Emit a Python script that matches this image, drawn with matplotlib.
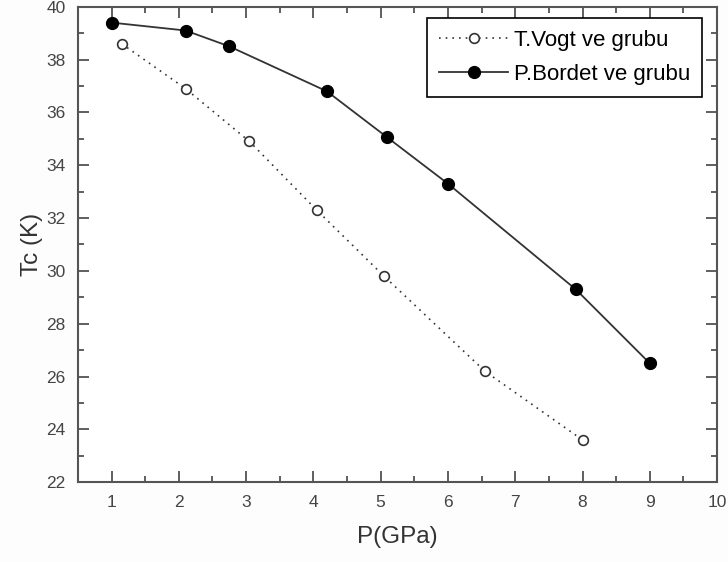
import matplotlib
matplotlib.use('Agg')
import matplotlib.pyplot as plt
from matplotlib.ticker import MultipleLocator

plt.rcParams['font.family'] = ['Liberation Sans', 'DejaVu Sans']

# T.Vogt ve grubu (open circles, dotted)
vogt_p = [1.15, 2.1, 3.05, 4.05, 5.05, 6.55, 8.0]
vogt_tc = [38.6, 36.9, 34.9, 32.3, 29.8, 26.2, 23.6]

# P.Bordet ve grubu (filled circles, solid)
bordet_p = [1.0, 2.1, 2.75, 4.2, 5.1, 6.0, 7.9, 9.0]
bordet_tc = [39.4, 39.1, 38.5, 36.8, 35.05, 33.3, 29.3, 26.5]

fig = plt.figure(figsize=(7.28, 5.62), dpi=100, facecolor='#fdfdfd')
ax = fig.add_axes([0.107, 0.142, 0.878, 0.846])

ax.plot(vogt_p, vogt_tc, linestyle=(0, (1, 3)), color='#333333', lw=1.2,
        marker='o', markersize=7, markerfacecolor='white',
        markeredgecolor='#333333', markeredgewidth=1.2, label='T.Vogt ve grubu')
ax.plot(bordet_p, bordet_tc, linestyle='-', color='#333333', lw=1.3,
        marker='o', markersize=8.5, markerfacecolor='black',
        markeredgecolor='black', label='P.Bordet ve grubu')

ax.set_xlim(0.5, 10)
ax.set_ylim(22, 40)
ax.xaxis.set_major_locator(MultipleLocator(1))
ax.xaxis.set_minor_locator(MultipleLocator(0.5))
ax.yaxis.set_major_locator(MultipleLocator(2))
ax.yaxis.set_minor_locator(MultipleLocator(1))
ax.tick_params(which='both', direction='in', top=True, right=True,
               labelsize=12.5, colors='#444444', width=1.2)
ax.tick_params(which='major', length=8, pad=9)
ax.tick_params(which='minor', length=4)
for s in ax.spines.values():
    s.set_color('#555555')
    s.set_linewidth(1.5)

ax.set_xlabel('P(GPa)', fontsize=17.5, color='#333333', labelpad=12)
ax.set_ylabel('Tc (K)', fontsize=17.5, color='#333333', labelpad=2)

leg = ax.legend(loc='upper right', bbox_to_anchor=(0.977, 0.977), fontsize=16,
                frameon=True, fancybox=False, edgecolor='black', framealpha=1,
                handlelength=3.1, borderpad=0.55, handletextpad=0.25,
                labelspacing=0.6, borderaxespad=0.0)
leg.get_frame().set_linewidth(1.2)

fig.savefig('out.png', dpi=100, facecolor=fig.get_facecolor())
